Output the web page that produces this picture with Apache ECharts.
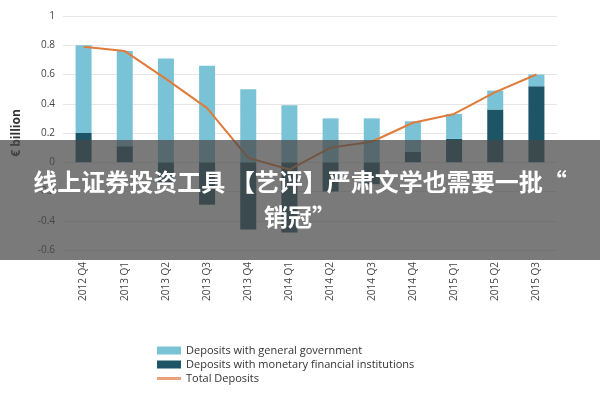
<!DOCTYPE html><html><head><meta charset="utf-8"><script src="https://cdn.jsdelivr.net/npm/echarts@6/dist/echarts.min.js"></script></head><body style="margin:0"><div id="c" style="width:600px;height:400px"></div><script>
const categories=['2012 Q4','2013 Q1','2013 Q2','2013 Q3','2013 Q4','2014 Q1','2014 Q2','2014 Q3','2014 Q4','2015 Q1','2015 Q2','2015 Q3'];
const govDeposits=[0.6,0.65,0.71,0.66,0.5,0.39,0.3,0.3,0.21,0.17,0.13,0.08];
const mfiDeposits=[0.2,0.11,-0.14,-0.29,-0.46,-0.48,-0.2,-0.15,0.07,0.16,0.36,0.52];
const totalDeposits=[0.79,0.76,0.57,0.37,0.03,-0.05,0.1,0.14,0.27,0.33,0.48,0.6];
const yTicks=[-0.6,-0.4,-0.2,0,0.2,0.4,0.6,0.8,1];
const c=echarts.init(document.getElementById('c'));
const f='"Open Sans", sans-serif';
c.setOption({
animation:false,
grid:{left:63,right:43,top:16,bottom:150},
legend:{orient:'vertical',left:152,top:340,itemGap:3,itemWidth:24,itemHeight:8,textStyle:{fontFamily:f,fontSize:11,color:'#333'},
 data:[{name:'Deposits with general government',icon:'rect'},{name:'Deposits with monetary financial institutions',icon:'rect'},{name:'Total Deposits',icon:'path://M0,0h24v3h-24z',itemStyle:{color:'#eba07e'}}]},
xAxis:{type:'category',data:categories,axisLine:{show:false},axisTick:{show:false},axisLabel:{rotate:90,fontFamily:f,fontSize:10,color:'#444',margin:12}},
yAxis:{type:'value',min:-0.6,max:1,interval:0.2,name:'€ billion',nameLocation:'middle',nameGap:40,nameTextStyle:{fontFamily:f,fontWeight:'bold',fontSize:12,color:'#333'},
 axisLabel:{fontFamily:f,fontSize:10,color:'#444',formatter:v=>{const t=yTicks.find(x=>Math.abs(x-v)<1e-6);return t===undefined?'':String(+t.toFixed(1));}},
 splitLine:{lineStyle:{color:'#e6e6e6'}}},
series:[
{name:'Deposits with monetary financial institutions',type:'bar',stack:'d',barWidth:16,data:mfiDeposits,itemStyle:{color:'#1d5566'}},
{name:'Deposits with general government',type:'bar',stack:'d',barWidth:16,data:govDeposits,itemStyle:{color:'#7ac3d6'}},
{name:'Total Deposits',type:'line',data:totalDeposits,symbol:'none',lineStyle:{color:'#e07b39',width:2},itemStyle:{color:'#e07b39'}}
],
graphic:[
{type:'rect',shape:{x:0,y:140,width:600,height:120},style:{fill:'rgba(70,70,70,0.72)'},z:100},
{type:'text',left:'center',top:170,style:{text:'线上证券投资工具 【艺评】严肃文学也需要一批“',fill:'#fff',font:'bold 24px "Noto Sans CJK SC"'},z:101},
{type:'text',left:'center',top:205,style:{text:'销冠”',fill:'#fff',font:'bold 24px "Noto Sans CJK SC"'},z:101}
]});
</script></body></html>
